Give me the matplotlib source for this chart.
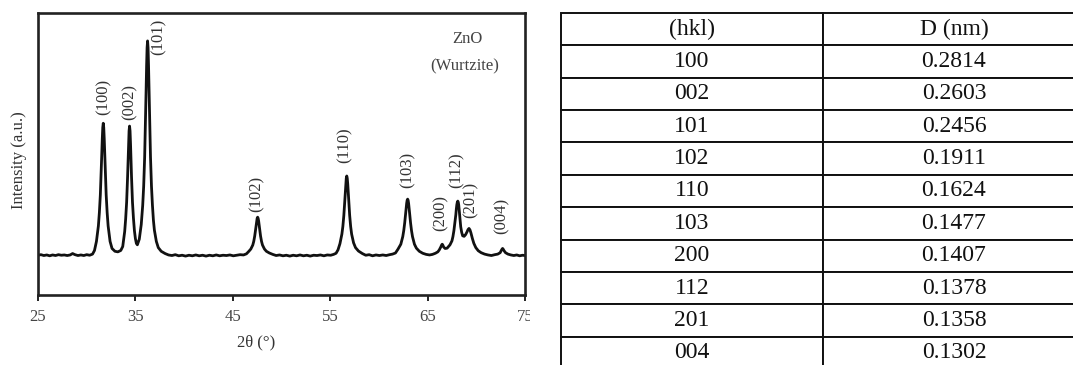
import matplotlib.pyplot as plt
from matplotlib.patches import Rectangle

# XRD pattern of ZnO (2theta in degrees, intensity in a.u.)
two_theta = [
    25.0, 25.3, 25.6, 25.9, 26.2, 26.5, 26.8, 27.1, 27.4, 27.7, 28.0, 28.3, 28.55, 28.8, 29.1, 29.4, 29.7, 30.0, 30.3, 30.6,
    30.8, 31.0, 31.2, 31.3, 31.4, 31.5, 31.55, 31.6, 31.65, 31.7, 31.75, 31.8, 31.85, 31.9, 32.0, 32.1, 32.2, 32.4, 32.6, 32.9, 33.2, 33.5,
    33.7, 33.9, 34.0, 34.1, 34.2, 34.25, 34.3, 34.35, 34.4, 34.45, 34.5, 34.55, 34.6, 34.7, 34.8, 34.9, 35.0, 35.1, 35.2,
    35.4, 35.6, 35.75, 35.85, 35.95, 36.05, 36.1, 36.15, 36.2, 36.25, 36.3, 36.35, 36.4, 36.45, 36.55, 36.65, 36.75, 36.85, 36.95, 37.15, 37.35, 37.65, 38.05, 38.4,
    38.75, 39.1, 39.45, 39.8, 40.15, 40.5, 40.85, 41.2, 41.55, 41.9, 42.25, 42.6, 42.95, 43.3, 43.65, 44.0, 44.35, 44.7, 45.05, 45.4, 45.75, 46.1, 46.4,
    46.65, 46.85, 47.05, 47.15, 47.25, 47.35, 47.4, 47.45, 47.5, 47.55, 47.6, 47.65, 47.7, 47.75, 47.85, 47.95, 48.05, 48.25, 48.45, 48.75, 49.1,
    49.45, 49.8, 50.15, 50.5, 50.85, 51.2, 51.55, 51.9, 52.25, 52.6, 52.95, 53.3, 53.65, 54.0, 54.35, 54.7, 55.05, 55.35, 55.6,
    55.8, 56.0, 56.2, 56.3, 56.4, 56.5, 56.55, 56.6, 56.65, 56.7, 56.75, 56.8, 56.85, 56.9, 57.0, 57.1, 57.2, 57.4, 57.6, 57.9, 58.3,
    58.65, 59.0, 59.35, 59.7, 60.05, 60.4, 60.75, 61.1, 61.4, 61.7,
    61.95, 62.25, 62.45, 62.55, 62.65, 62.75, 62.8, 62.85, 62.9, 62.95, 63.0, 63.05, 63.1, 63.15, 63.25, 63.35, 63.45, 63.65, 63.85, 64.15, 64.5,
    64.85, 65.2, 65.5, 65.8, 66.05,
    66.2, 66.35, 66.45, 66.5, 66.55, 66.65, 66.8, 67.0,
    67.3, 67.5, 67.6, 67.7, 67.8, 67.9, 67.95, 68.0, 68.05, 68.1, 68.15, 68.2, 68.25, 68.3, 68.4, 68.5, 68.6, 68.75,
    68.9, 69.05, 69.15, 69.25, 69.35, 69.45, 69.6, 69.75, 69.95, 70.2, 70.5, 70.85,
    71.2, 71.55, 71.9, 72.2, 72.45,
    72.55, 72.65, 72.7, 72.75, 72.85, 73.0, 73.25, 73.55, 73.85, 74.15, 74.45, 74.75, 75.0,
]
intensity = [
    141, 143, 140, 142, 139, 142, 140, 143, 141, 142, 140, 142, 147, 143, 140, 142, 140, 143, 141, 145,
    158, 190, 245, 292, 355, 447, 502, 554, 594, 609, 594, 554, 502, 447, 355, 292, 245, 190, 165, 155, 153, 158,
    172, 225, 270, 329, 421, 478, 536, 582, 599, 582, 536, 478, 421, 329, 272, 228, 200, 183, 178,
    198, 250, 318, 386, 489, 638, 727, 812, 877, 901, 877, 812, 727, 638, 489, 386, 318, 265, 230, 190, 168, 155, 147, 142,
    140, 143, 139, 141, 138, 141, 139, 142, 139, 141, 138, 141, 139, 142, 139, 141, 140, 142, 139, 141, 143, 142, 146,
    155, 163, 177, 190, 209, 235, 249, 263, 272, 276, 272, 263, 249, 235, 209, 190, 177, 163, 155, 149, 144,
    140, 142, 139, 141, 138, 141, 139, 142, 139, 141, 138, 141, 140, 142, 139, 142, 141, 144, 148,
    160, 182, 216, 243, 282, 336, 366, 394, 414, 422, 414, 394, 366, 336, 282, 243, 216, 185, 168, 156, 147,
    141, 143, 139, 142, 140, 142, 140, 143, 145, 149,
    162, 180, 207, 228, 256, 291, 309, 325, 336, 340, 336, 325, 309, 291, 256, 228, 207, 180, 166, 155, 148,
    144, 142, 144, 148, 153,
    160, 170, 178, 180, 178, 170, 165, 166,
    178, 192, 207, 228, 255, 285, 305, 320, 329, 333, 329, 318, 300, 280, 242, 222, 210, 208,
    214, 224, 232, 236, 231, 220, 200, 183, 168, 157, 150, 145,
    142, 140, 143, 145, 150,
    157, 163, 165, 163, 157, 150, 145, 142, 140, 142, 139, 141, 140,
]

# peak labels (hkl) and where they sit above the peaks
peak_labels = ['(100)', '(002)', '(101)', '(102)', '(110)', '(103)', '(200)', '(112)', '(201)', '(004)']
label_x = [31.7, 34.45, 37.4, 47.45, 56.5, 63.0, 66.35, 68.0, 69.4, 72.6]
label_y = [638, 621, 851, 294, 468, 379, 228, 378, 273, 218]

# crystallite size table
hkl = ['100', '002', '101', '102', '110', '103', '200', '112', '201', '004']
d_nm = ['0.2814', '0.2603', '0.2456', '0.1911', '0.1624', '0.1477', '0.1407', '0.1378', '0.1358', '0.1302']

serif = 'Liberation Serif'
W, H = 1073, 365

fig = plt.figure(figsize=(W / 100, H / 100), dpi=100)

# left panel: the XRD plot
ax = fig.add_axes([38 / W, 1 - 295 / H, (525 - 38) / W, (295 - 13) / H])
ax.plot(two_theta, intensity, color='#111111', linewidth=2.0)
ax.set_xlim(25, 75)
ax.set_ylim(0, 1000)
ax.set_xticks([25, 35, 45, 55, 65, 75])
ax.set_yticks([])
ax.tick_params(axis='x', direction='out', length=4, width=1.4, colors='#222222', labelsize=12, pad=6)
for lab in ax.get_xticklabels():
    lab.set_fontfamily(serif)
    lab.set_color('#444444')
for sp in ax.spines.values():
    sp.set_linewidth(1.9)
    sp.set_color('#222222')

for name, x, y in zip(peak_labels, label_x, label_y):
    ax.text(x, y, name, rotation=90, ha='center', va='bottom', fontsize=12, family=serif, color='#333333')

ax.text(69.05, 908, 'ZnO', ha='center', va='center', fontsize=12, family=serif, color='#444444')
ax.text(68.85, 812, '(Wurtzite)', ha='center', va='center', fontsize=12, family=serif, color='#444444')

fig.text(256 / W, 1 - 342 / H, '2θ (°)', ha='center', va='center', fontsize=12, family=serif, color='#333333')
fig.text(19 / W, 1 - 160 / H, 'Intensity (a.u.)', rotation=90, ha='center', va='center', fontsize=12,
         family=serif, color='#333333')

# the original picture is cropped just after the "75" label
fig.patches.append(Rectangle((530 / W, 0), 28 / W, 1, transform=fig.transFigure, facecolor='white',
                             edgecolor='none', zorder=10))

# right panel: the table
tax = fig.add_axes([561 / W, 1 - 369 / H, (1085 - 561) / W, (369 - 13) / H])
tax.axis('off')
tbl = tax.table(cellText=[[a, b] for a, b in zip(hkl, d_nm)], colLabels=['(hkl)', 'D (nm)'],
                cellLoc='center', bbox=[0, 0, 1, 1])
tbl.auto_set_font_size(False)
for (r, c), cell in tbl.get_celld().items():
    cell.set_linewidth(1.4)
    cell.set_edgecolor('#111111')
    cell.set_text_props(fontfamily=serif, fontsize=17, color='#111111')

plt.savefig('out.png', dpi=100)
